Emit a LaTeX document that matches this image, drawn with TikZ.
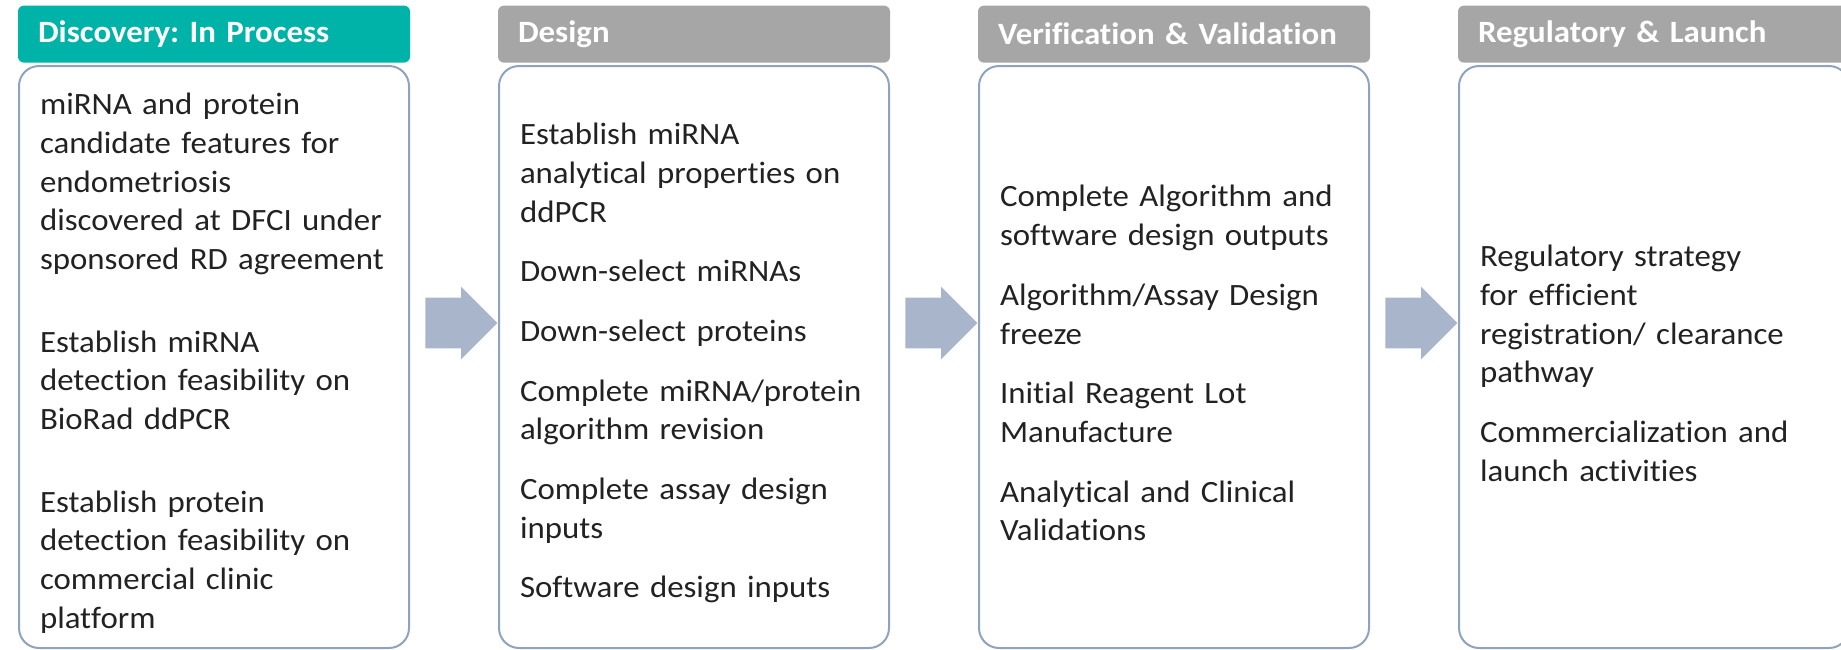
\documentclass[tikz,border=0pt]{standalone}
\usepackage{fontspec}
\setmainfont[FakeStretch=1.06, Ligatures={NoCommon}]{Carlito}
\usepackage{xcolor}
\usetikzlibrary{positioning, shapes.arrows}

\definecolor{tealhead}{HTML}{00B3A8}
\definecolor{grayhead}{HTML}{A6A6A6}
\definecolor{boxline}{HTML}{8FA3BF}
\definecolor{arrowfill}{HTML}{A9B5CB}
\definecolor{bodytext}{HTML}{222222}

\frenchspacing
\newcommand{\stagefont}{\hyphenpenalty=10000\relax\fontsize{15.5}{19.35}\selectfont}

\begin{document}
\begin{tikzpicture}[x=0.5pt, y=-0.5pt]

\tikzset{
  body/.style = {rectangle, rounded corners=10pt, draw=boxline, line width=1pt,
    minimum width=195pt, minimum height=291pt, text width=174pt, inner xsep=10.5pt,
    inner ysep=0pt, align=left, text=bodytext, font=\stagefont,
    execute at begin node={\rule{0pt}{17pt}}},
  phase/.style = {rectangle, rounded corners=3pt, fill=grayhead, minimum width=196pt,
    minimum height=28.5pt, text width=176pt, inner xsep=10pt, align=left, text=white,
    font=\bfseries\fontsize{15.5}{18}\selectfont},
  blockarrow/.style = {single arrow, fill=arrowfill, draw=none, inner xsep=0pt,
    inner ysep=12.5pt, minimum height=36pt, minimum width=36pt,
    single arrow head extend=5.5pt, single arrow tip angle=90}
}

\useasboundingbox (0,0) rectangle (1841,649);

% the four stages
\node (discovery) [body] at (214,357) {miRNA and protein\\ candidate features for\\ endometriosis\\ discovered at DFCI under\\ sponsored RD agreement\\[22pt]
Establish miRNA\\ detection feasibility on\\ BioRad ddPCR\\[22pt]
Establish protein\\ detection feasibility on\\ commercial clinic\\ platform};
\node (design) [body, right=44pt of discovery] {Establish miRNA\\ analytical properties on\\ ddPCR\\[10.5pt]
Down-select miRNAs\\[10.5pt]
Down-select proteins\\[10.5pt]
Complete miRNA/protein\\ algorithm revision\\[10.5pt]
Complete assay design\\ inputs\\[10.5pt]
Software design inputs};
\node (verification) [body, right=44pt of design] {Complete Algorithm and\\ software design outputs\\[10.5pt]
Algorithm/Assay Design\\ freeze\\[10.5pt]
Initial Reagent Lot\\ Manufacture\\[10.5pt]
Analytical and Clinical\\ Validations};
\node (launch) [body, right=44pt of verification] {Regulatory strategy\\ for efficient\\ registration/ clearance\\ pathway\\[10.5pt]
Commercialization and\\ launch activities};

% headers
\node (discoveryHead) [phase, fill=tealhead, above=1pt of discovery] {Discovery: In Process};
\node (designHead) [phase, above=1pt of design] {Design};
\node (verificationHead) [phase, above=1pt of verification] {Verification \& Validation};
\node (launchHead) [phase, above=1pt of launch] {Regulatory \& Launch};

% arrows between stages
\node (toDesign) [blockarrow, left=0pt of design.west, yshift=17pt] {};
\node (toVerification) [blockarrow, left=0pt of verification.west, yshift=17pt] {};
\node (toLaunch) [blockarrow, left=0pt of launch.west, yshift=17pt] {};

\end{tikzpicture}
\end{document}
